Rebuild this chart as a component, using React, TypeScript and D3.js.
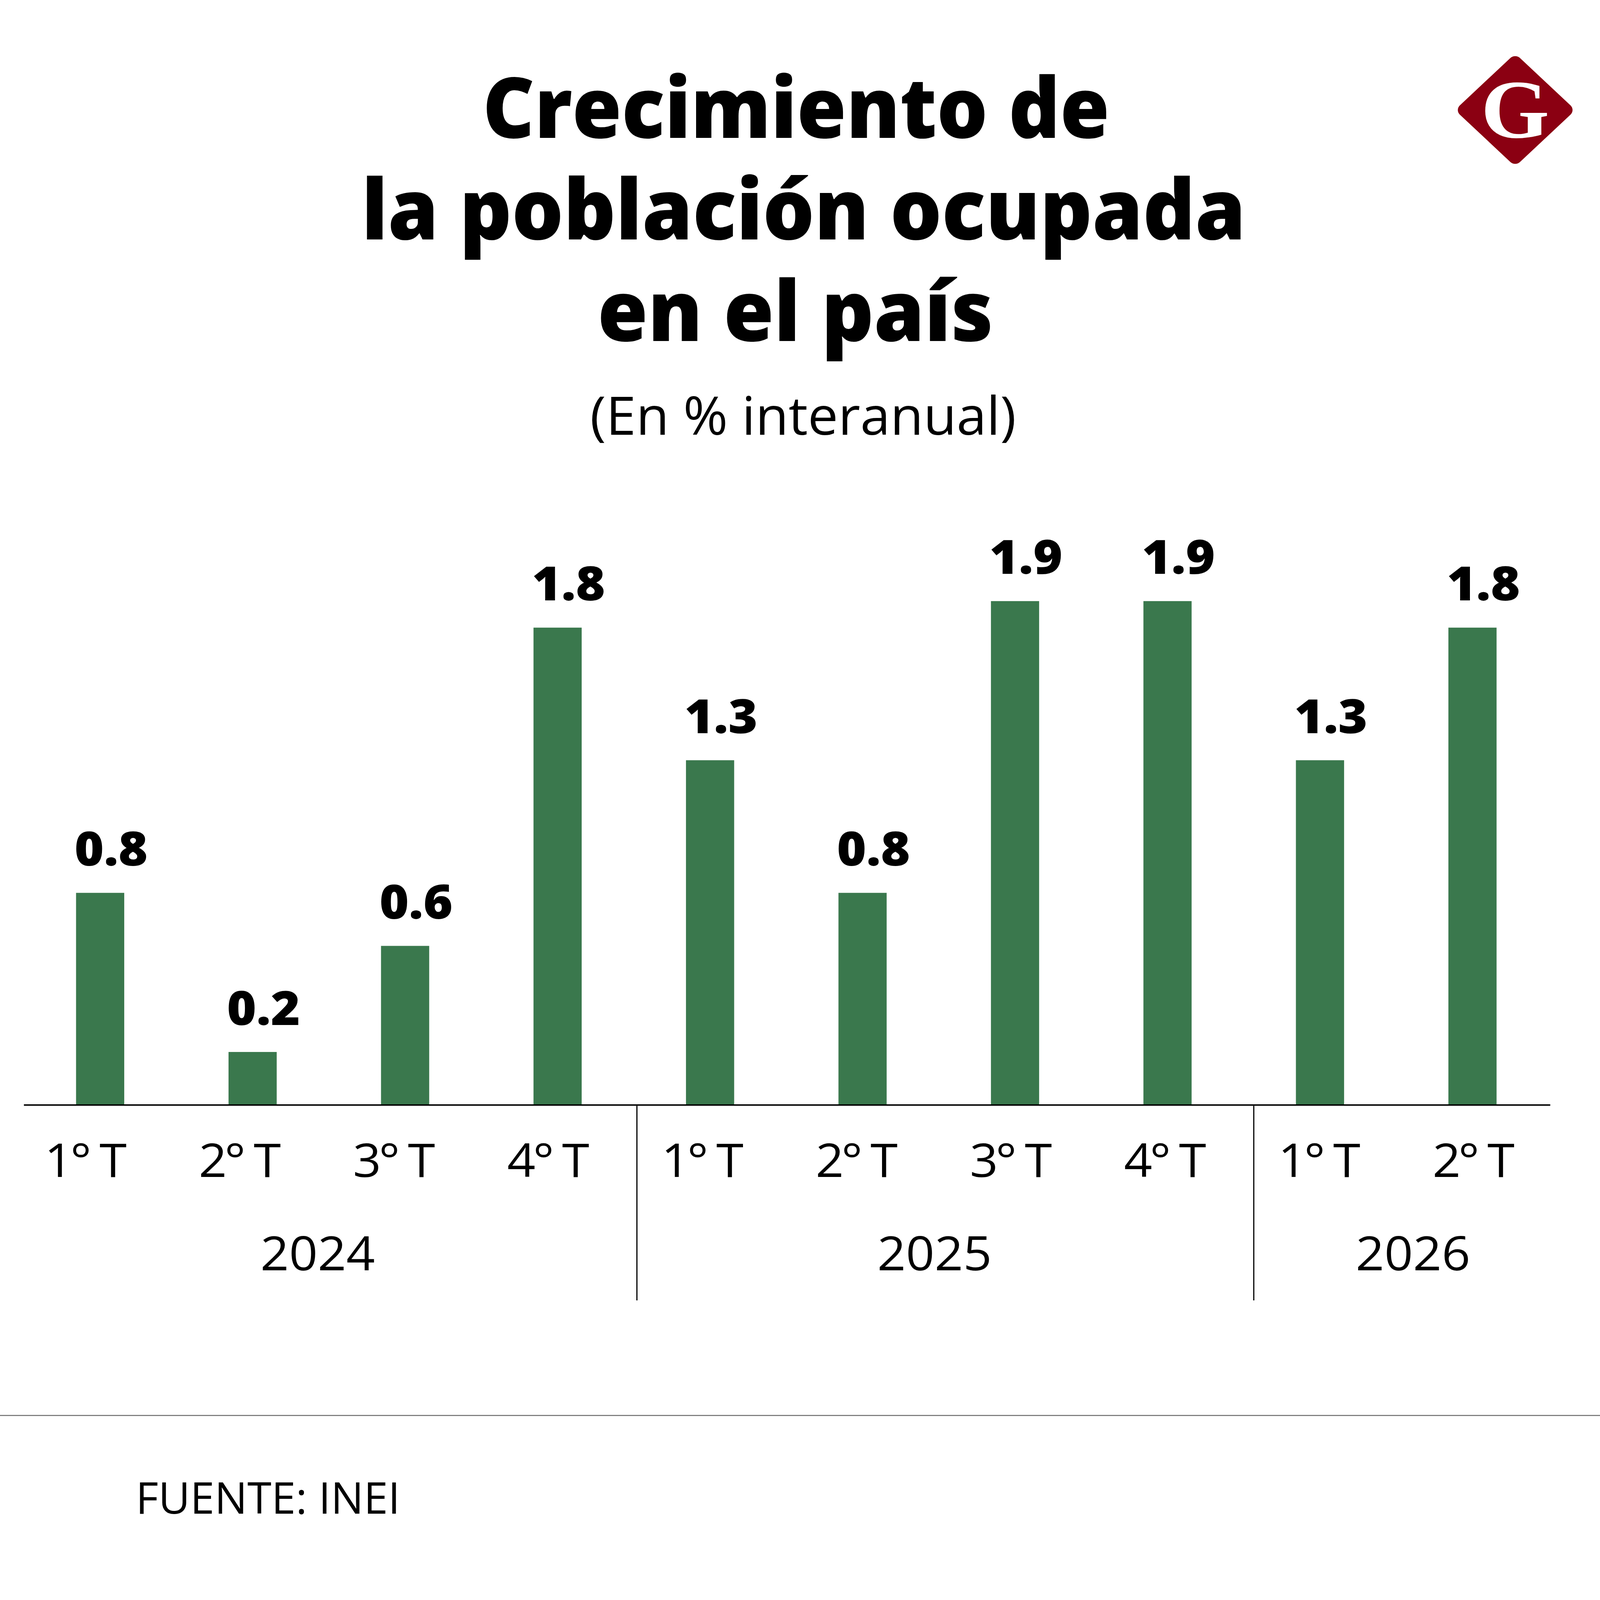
import React from 'react';
import * as d3 from 'd3';

const quarters = ['1° T', '2° T', '3° T', '4° T', '1° T', '2° T', '3° T', '4° T', '1° T', '2° T'];
const quarterYears = ['2024', '2024', '2024', '2024', '2025', '2025', '2025', '2025', '2026', '2026'];
const values = [0.8, 0.2, 0.6, 1.8, 1.3, 0.8, 1.9, 1.9, 1.3, 1.8];
const yearGroups = ['2024', '2025', '2026'];
const titleLines = ['Crecimiento de', 'la población ocupada', 'en el país'];
const subtitle = '(En % interanual)';
const source = 'FUENTE: INEI';

const W = 4150;
const H = 4422;
const BAR_COLOR = '#3a784d';
const LOGO_COLOR = '#8b0012';
const SANS = '"Open Sans", "Noto Sans", sans-serif';

export default function App() {
  const ids = values.map((_, i) => i);
  const x = d3.scaleBand<number>().domain(ids).range([62, 4017]).paddingInner(0.684).paddingOuter(0.342);
  const xl = d3.scaleBand<number>().domain(ids).range([22, 4022]);
  const baseY = 3054;
  const y = d3.scaleLinear().domain([0, 2]).range([baseY, baseY - 1466]);

  const titleLayout = [
    { x: 1252, len: 1626, base: 381 },
    { x: 938, len: 2293, base: 662 },
    { x: 1550, len: 1026, base: 943 },
  ];

  const groups = yearGroups.map((yr, gi) => {
    const idx = ids.filter((i) => quarterYears[i] === yr);
    const first = idx[0];
    const last = idx[idx.length - 1];
    const left = xl(first)!;
    const right = xl(last)! + xl.bandwidth();
    const isLast = gi === yearGroups.length - 1;
    const cx = isLast ? (left + right) / 2 + 43 : (left + right) / 2 + 2;
    return { yr, first, last, left, right, cx };
  });
  const separators = groups.slice(1).map((g) => g.left + 30);

  const logoCx = 3930;
  const logoCy = 304;
  const logoSide = 221;

  return (
    <svg
      viewBox={`0 0 ${W} ${H}`}
      preserveAspectRatio="none"
      style={{ position: 'absolute', left: 0, top: 0, display: 'block', width: '100vw', height: '100vh', background: '#fff' }}
    >
      <rect x={0} y={0} width={W} height={H} fill="#fff" />

      {titleLines.map((t, i) => (
        <text
          key={i}
          x={titleLayout[i].x}
          y={titleLayout[i].base}
          fontFamily={SANS}
          fontWeight={800}
          fontSize={231}
          textLength={titleLayout[i].len}
          lengthAdjust="spacingAndGlyphs"
          fill="#000"
        >
          {t}
        </text>
      ))}
      <text
        x={2083}
        y={1202}
        textAnchor="middle"
        fontFamily={SANS}
        fontWeight={400}
        fontSize={146}
        textLength={1105}
        lengthAdjust="spacingAndGlyphs"
        fill="#000"
      >
        {subtitle}
      </text>

      <g transform={`translate(${logoCx},${logoCy}) rotate(45)`}>
        <rect x={-logoSide / 2} y={-logoSide / 2} width={logoSide} height={logoSide} rx={18} ry={18} fill={LOGO_COLOR} />
      </g>
      <text
        x={logoCx}
        y={380}
        textAnchor="middle"
        fontFamily='"Liberation Serif", "DejaVu Serif", serif'
        fontWeight={700}
        fontSize={228}
        fill="#fff"
      >
        G
      </text>

      {values.map((v, i) => (
        <rect key={i} x={x(i)} y={y(v)} width={x.bandwidth()} height={baseY - y(v)} fill={BAR_COLOR} />
      ))}

      {values.map((v, i) => (
        <text
          key={i}
          x={x(i)! - 4}
          y={y(v) - 75}
          fontFamily={SANS}
          fontWeight={800}
          fontSize={130}
          fill="#000"
        >
          {d3.format('.1f')(v)}
        </text>
      ))}

      <line x1={62} x2={4021} y1={baseY} y2={baseY} stroke="#000" strokeWidth={4} />

      {separators.map((sx, i) => (
        <line key={i} x1={sx} x2={sx} y1={baseY + 2} y2={3594} stroke="#000" strokeWidth={3} />
      ))}

      {quarters.map((q, i) => (
        <text
          key={i}
          x={xl(i)! + xl.bandwidth() / 2}
          y={3253}
          textAnchor="middle"
          fontFamily={SANS}
          fontWeight={400}
          fontSize={128}
          textLength={213}
          lengthAdjust="spacing"
          fill="#000"
        >
          {q}
        </text>
      ))}

      {groups.map((g) => (
        <text
          key={g.yr}
          x={g.cx}
          y={3511}
          textAnchor="middle"
          fontFamily={SANS}
          fontWeight={400}
          fontSize={130}
          fill="#000"
        >
          {g.yr}
        </text>
      ))}

      <line x1={0} x2={W} y1={3912} y2={3912} stroke="#777" strokeWidth={3} />
      <text
        x={352}
        y={4183}
        fontFamily={SANS}
        fontWeight={400}
        fontSize={120}
        textLength={686}
        lengthAdjust="spacingAndGlyphs"
        fill="#000"
      >
        {source}
      </text>
    </svg>
  );
}
